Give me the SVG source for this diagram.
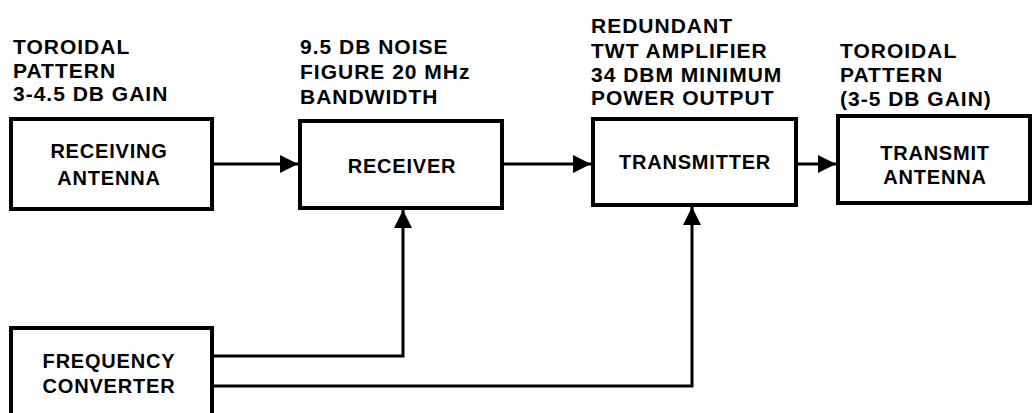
<svg xmlns="http://www.w3.org/2000/svg" width="1035" height="413" viewBox="0 0 1035 413">
<style>
.box{fill:#fff;stroke:#000;stroke-width:4}
.lbl{font-family:"Liberation Sans",Arial,sans-serif;font-weight:bold;font-size:21px;letter-spacing:1px;fill:#000}
.in{font-family:"Liberation Sans",Arial,sans-serif;font-weight:bold;font-size:20px;letter-spacing:0.8px;fill:#000;text-anchor:middle}
.con{fill:none;stroke:#000;stroke-width:3}
</style>
<defs>
<marker id="ah" markerUnits="userSpaceOnUse" markerWidth="20" markerHeight="20" refX="18" refY="10" orient="auto">
<path d="M0,1 L18,10 L0,19 Z" fill="#000"/>
</marker>
</defs>
<g id="labels">
<text class="lbl" x="13" y="54">TOROIDAL</text>
<text class="lbl" x="13" y="78">PATTERN</text>
<text class="lbl" x="13" y="101">3-4.5 DB GAIN</text>
<text class="lbl" x="300" y="54">9.5 DB NOISE</text>
<text class="lbl" x="300" y="79">FIGURE 20 MHz</text>
<text class="lbl" x="300" y="104">BANDWIDTH</text>
<text class="lbl" x="591" y="33">REDUNDANT</text>
<text class="lbl" x="591" y="58">TWT AMPLIFIER</text>
<text class="lbl" x="591" y="82">34 DBM MINIMUM</text>
<text class="lbl" x="591" y="105">POWER OUTPUT</text>
<text class="lbl" x="840" y="58">TOROIDAL</text>
<text class="lbl" x="840" y="82">PATTERN</text>
<text class="lbl" x="840" y="106">(3-5 DB GAIN)</text>
</g>
<g id="receiving-antenna">
<rect class="box" x="11" y="119" width="201" height="90"/>
<text class="in" x="109" y="158">RECEIVING</text>
<text class="in" x="109" y="185">ANTENNA</text>
</g>
<g id="receiver">
<rect class="box" x="300" y="121" width="202" height="87"/>
<text class="in" x="402" y="173">RECEIVER</text>
</g>
<g id="transmitter">
<rect class="box" x="593" y="119" width="203" height="86"/>
<text class="in" x="695" y="169">TRANSMITTER</text>
</g>
<g id="transmit-antenna">
<rect class="box" x="838" y="116" width="192" height="87"/>
<text class="in" x="935" y="160">TRANSMIT</text>
<text class="in" x="935" y="184">ANTENNA</text>
</g>
<g id="frequency-converter">
<rect class="box" x="11" y="328" width="201" height="90"/>
<text class="in" x="109" y="368">FREQUENCY</text>
<text class="in" x="109" y="393">CONVERTER</text>
</g>
<g id="connectors">
<path class="con" d="M212,164 H298" marker-end="url(#ah)"/>
<path class="con" d="M502,164 H591" marker-end="url(#ah)"/>
<path class="con" d="M796,164 H836" marker-end="url(#ah)"/>
<path class="con" d="M212,356 H403 V210" marker-end="url(#ah)"/>
<path class="con" d="M212,386 H692 V207" marker-end="url(#ah)"/>
</g>
</svg>
